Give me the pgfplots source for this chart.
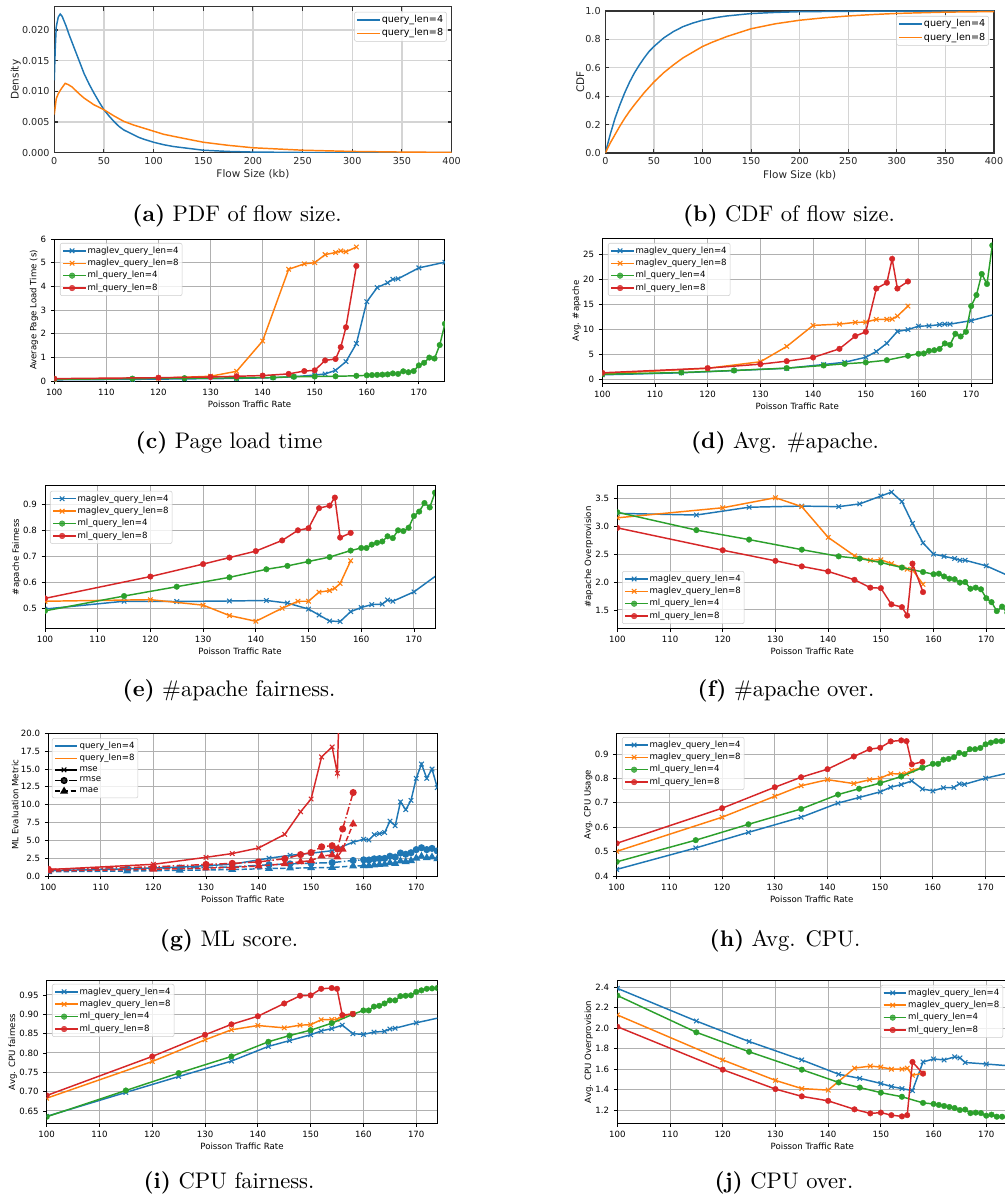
\documentclass[border=0pt]{standalone}
\usepackage{fontspec}
\usepackage{pgfplots}
\pgfplotsset{compat=1.18}
\newfontfamily\djv{DejaVu Sans}
\definecolor{tblue}{HTML}{1F77B4}
\definecolor{torange}{HTML}{FF7F0E}
\definecolor{tgreen}{HTML}{2CA02C}
\definecolor{tred}{HTML}{D62728}
\definecolor{mgrid}{HTML}{B0B0B0}
\definecolor{sgrid}{HTML}{D4D4D4}
\newcommand\fs{\djv\fontsize{6.45}{7.7}\selectfont}
\newcommand\fa{\djv\fontsize{7.2}{8.6}\selectfont}
\newcommand\fal{\djv\fontsize{7.85}{9.4}\selectfont}
\newcommand\capf{\fontsize{10}{12}\selectfont}
\newcommand\subcap[3]{\node[anchor=base, scale=1.69] at (#1) {\capf\textbf{(#2)} #3};}
\pgfplotsset{
 legend image code/.code={\draw[mark repeat=2,mark phase=2,#1] plot coordinates {(0pt,0pt)(6.75pt,0pt)(13.5pt,0pt)};\path (0pt,0pt) -- (16.8pt,0pt);},
 mpl/.style={scale only axis, anchor=south west, /pgf/number format/assume math mode=true, legend cell align=left, scaled ticks=false, grid=major, clip marker paths=true,
   legend style={draw=black!20, fill=white, fill opacity=0.8, text opacity=1, draw opacity=1, rounded corners=1.5pt, inner xsep=1.6pt, inner ysep=1.5pt, row sep=0.9pt, nodes={inner sep=1pt}},
   ylabel style={yshift=-5pt}, xlabel style={yshift=3pt}},
 pdfax/.style={mpl, tick label style={font=\fa, text=black!85}, label style={font=\fal, text=black!85}, legend style={font=\fa}, tick align=inside, major grid style={color=sgrid, line width=0.9pt}, axis line style={color=black!80, line width=1pt}, major tick style={color=black!80, line width=0.8pt}, major tick length=3pt, ylabel style={yshift=-1pt}},
 poi/.style={mpl, tick label style={font=\fs}, label style={font=\fs}, legend style={font=\fs}, tick align=outside, xtick pos=left, ytick pos=left, xmin=100, xmax=174, xtick={100,110,...,170}, major grid style={color=mgrid, line width=0.75pt}, axis line style={black, line width=0.7pt}, major tick length=2.6pt, major tick style={black, line width=0.6pt}, width=292.5pt, height=107pt, xlabel={Poisson Traffic Rate}},
 m4/.style={color=tblue, line width=1.1pt, mark=x, mark size=2.4pt, mark options={solid, line width=0.8pt}},
 m8/.style={color=torange, line width=1.1pt, mark=x, mark size=2.4pt, mark options={solid, line width=0.8pt}},
 l4/.style={color=tgreen, line width=1.1pt, mark=*, mark size=2.1pt, mark options={solid, line width=0.3pt}},
 l8/.style={color=tred, line width=1.1pt, mark=*, mark size=2.1pt, mark options={solid, line width=0.3pt}},
 ddot/.style={dash pattern=on 6pt off 1.8pt on 1.1pt off 1.8pt},
 ddash/.style={dash pattern=on 4pt off 1.8pt},
}
\begin{document}
\begin{tikzpicture}
% (a)
\begin{axis}[pdfax, at={(40.7pt,-114.5pt)}, width=298pt, height=109.5pt, xmin=0, xmax=400, ymin=0, ymax=0.0238,
 xtick={0,50,...,400}, ytick={0,0.005,0.010,0.015,0.020},
 yticklabel style={/pgf/number format/.cd, fixed, fixed zerofill, precision=3},
 xlabel={Flow Size (kb)}, ylabel={Density}, legend style={at={(0.988,0.964)}, anchor=north east}]
\addplot[color=tblue, line width=1.1pt] coordinates {(0,0.0118)(1,0.0170)(2,0.0205)(4,0.0221)(6,0.0226)(8,0.0222)(10,0.0214)(12,0.0206)(15,0.0192)(20,0.0171)(25,0.0150)(30,0.0129)(35,0.0112)(40,0.0097)(45,0.0083)(50,0.0070)(55,0.0060)(60,0.0051)(65,0.0043)(70,0.0037)(75,0.0033)(80,0.0029)(85,0.0025)(90,0.0022)(100,0.0017)(110,0.0013)(120,0.0010)(130,0.0008)(140,0.0006)(150,0.0004)(175,0.0002)(200,0.0001)(250,0.00003)(300,0.00001)(350,0.000003)(400,0.000001)};
\addlegendentry{query\_len=4}
\addplot[color=torange, line width=1.1pt] coordinates {(0,0.0062)(2,0.0088)(4,0.0096)(7,0.0104)(11,0.0113)(14,0.0111)(18,0.0107)(25,0.0096)(30,0.0089)(40,0.0078)(50,0.0070)(60,0.0060)(70,0.0051)(80,0.0045)(90,0.0040)(100,0.0035)(110,0.0030)(125,0.0025)(150,0.0017)(175,0.0012)(200,0.0008)(225,0.0006)(250,0.0004)(275,0.0003)(300,0.0002)(325,0.00015)(350,0.0001)(375,0.00007)(400,0.00005)};
\addlegendentry{query\_len=8}
\end{axis}
% (b)
\begin{axis}[pdfax, at={(454pt,-114.75pt)}, width=291.5pt, height=106.5pt, xmin=0, xmax=400, ymin=0, ymax=1,
 xtick={0,50,...,400}, ytick={0,0.2,0.4,0.6,0.8,1.0},
 yticklabel style={/pgf/number format/.cd, fixed, fixed zerofill, precision=1},
 xlabel={Flow Size (kb)}, ylabel={CDF}, legend style={at={(0.987,0.965)}, anchor=north east}]
\addplot[color=tblue, line width=1.1pt] coordinates {(0,0)(2.5,0.065)(5,0.13)(10,0.245)(15,0.34)(20,0.425)(25,0.50)(30,0.565)(35,0.62)(40,0.67)(45,0.715)(50,0.75)(60,0.81)(70,0.855)(80,0.89)(90,0.915)(100,0.935)(115,0.955)(125,0.965)(150,0.982)(175,0.99)(200,0.995)(250,0.998)(300,0.999)(400,1.0)};
\addlegendentry{query\_len=4}
\addplot[color=torange, line width=1.1pt] coordinates {(0,0)(5,0.07)(10,0.13)(15,0.19)(20,0.245)(25,0.295)(30,0.34)(40,0.425)(50,0.50)(60,0.565)(70,0.62)(80,0.67)(90,0.71)(100,0.75)(110,0.78)(125,0.82)(150,0.875)(175,0.91)(200,0.935)(225,0.952)(250,0.965)(275,0.975)(300,0.983)(350,0.992)(400,0.996)};
\addlegendentry{query\_len=8}
\end{axis}
% (c)
\begin{axis}[poi, at={(40.7pt,-285.75pt)}, width=293pt, height=106.5pt, xmax=175, ymin=0, ymax=6, ytick={0,...,6},
 ylabel={Average Page Load Time (s)}, legend style={at={(0.0146,0.972)}, anchor=north west}]
\addplot[m4] coordinates {(100,0.05)(115,0.07)(125,0.09)(135,0.11)(142,0.14)(146,0.18)(150,0.25)(152,0.30)(154,0.45)(156,0.82)(158,1.58)(160,3.35)(162,3.95)(164,4.15)(165,4.30)(166,4.32)(170,4.78)(175,5.02)};
\addlegendentry{maglev\_query\_len=4}
\addplot[m8] coordinates {(100,0.08)(120,0.12)(130,0.20)(135,0.41)(140,1.69)(145,4.72)(148,4.95)(150,5.00)(152,5.34)(154,5.43)(155,5.50)(156,5.46)(158,5.66)};
\addlegendentry{maglev\_query\_len=8}
\addplot[l4] coordinates {(100,0.07)(115,0.10)(125,0.12)(135,0.13)(142,0.15)(146,0.18)(150,0.19)(154,0.20)(158,0.22)(160,0.24)(161,0.25)(162,0.26)(163,0.27)(164,0.28)(165,0.32)(166,0.30)(167,0.41)(168,0.37)(169,0.42)(170,0.66)(171,0.77)(172,0.99)(173,0.95)(174,1.52)(175,2.42)};
\addlegendentry{ml\_query\_len=4}
\addplot[l8] coordinates {(100,0.10)(120,0.14)(130,0.17)(135,0.20)(140,0.23)(145,0.30)(148,0.42)(150,0.45)(152,0.87)(154,0.93)(155,1.43)(156,2.27)(158,4.86)};
\addlegendentry{ml\_query\_len=8}
\end{axis}
% (d)
\begin{axis}[poi, at={(451.7pt,-287.5pt)}, width=292.5pt, height=108.75pt, ymin=-0.7, ymax=28.2, ytick={0,5,...,25},
 ylabel={Avg. \#apache}, legend style={at={(0.0146,0.968)}, anchor=north west}]
\addplot[m4] coordinates {(100,1.0)(115,1.4)(125,1.85)(135,2.3)(142,3.05)(146,3.5)(150,4.5)(152,5.65)(154,7.3)(156,9.65)(158,10.0)(160,10.7)(162,10.75)(164,11.0)(165,11.1)(166,11.1)(170,11.8)(175,13.2)};
\addlegendentry{maglev\_query\_len=4}
\addplot[m8] coordinates {(100,1.2)(120,2.3)(130,3.6)(135,6.65)(140,10.85)(145,11.1)(148,11.45)(150,11.5)(152,12.05)(154,12.05)(155,12.1)(156,12.7)(158,14.7)};
\addlegendentry{maglev\_query\_len=8}
\addplot[l4] coordinates {(100,1.1)(115,1.46)(125,1.86)(135,2.33)(142,2.86)(146,3.19)(150,3.46)(154,3.92)(158,4.79)(160,5.19)(161,5.25)(162,5.78)(163,5.9)(164,6.15)(165,7.25)(166,6.98)(167,9.18)(168,8.64)(169,9.57)(170,14.7)(171,16.9)(172,21.1)(173,19.1)(174,26.8)};
\addlegendentry{ml\_query\_len=4}
\addplot[l8] coordinates {(100,1.4)(120,2.33)(130,3.12)(135,3.72)(140,4.45)(145,6.18)(148,8.71)(150,9.57)(152,18.2)(154,19.35)(155,24.1)(156,18.2)(158,19.6)};
\addlegendentry{ml\_query\_len=8}
\end{axis}
% (e)
\begin{axis}[poi, at={(33.75pt,-471.2pt)}, ymin=0.423, ymax=0.972, ytick={0.5,0.6,0.7,0.8,0.9},
 yticklabel style={/pgf/number format/.cd, fixed, fixed zerofill, precision=1},
 ylabel={\#apache Fairness}, legend style={at={(0.0128,0.963)}, anchor=north west}]
\addplot[m4] coordinates {(100,0.497)(115,0.527)(125,0.526)(135,0.528)(142,0.530)(146,0.520)(150,0.497)(152,0.474)(154,0.451)(156,0.449)(158,0.487)(160,0.503)(162,0.514)(164,0.516)(165,0.532)(166,0.527)(170,0.563)(175,0.637)};
\addlegendentry{maglev\_query\_len=4}
\addplot[m8] coordinates {(100,0.527)(120,0.533)(130,0.512)(135,0.472)(140,0.450)(145,0.500)(148,0.527)(150,0.527)(152,0.562)(154,0.568)(155,0.577)(156,0.595)(158,0.683)};
\addlegendentry{maglev\_query\_len=8}
\addplot[l4] coordinates {(100,0.490)(115,0.547)(125,0.583)(135,0.619)(142,0.650)(146,0.663)(150,0.680)(154,0.697)(158,0.722)(160,0.732)(161,0.732)(162,0.745)(163,0.752)(164,0.757)(165,0.777)(166,0.770)(167,0.800)(168,0.797)(169,0.810)(170,0.855)(171,0.872)(172,0.905)(173,0.888)(174,0.945)};
\addlegendentry{ml\_query\_len=4}
\addplot[l8] coordinates {(100,0.538)(120,0.622)(130,0.670)(135,0.695)(140,0.720)(145,0.761)(148,0.800)(150,0.808)(152,0.885)(154,0.895)(155,0.926)(156,0.772)(158,0.790)};
\addlegendentry{ml\_query\_len=8}
\end{axis}
% (f)
\begin{axis}[poi, at={(463pt,-471.2pt)}, ymin=1.172, ymax=3.727, ytick={1.5,2.0,2.5,3.0,3.5},
 yticklabel style={/pgf/number format/.cd, fixed, fixed zerofill, precision=1},
 ylabel={\#apache Overprovision}, legend style={at={(0.012,0.03)}, anchor=south west}]
\addplot[m4] coordinates {(100,3.23)(115,3.20)(125,3.34)(135,3.36)(142,3.35)(146,3.40)(150,3.54)(152,3.61)(154,3.44)(156,3.05)(158,2.70)(160,2.50)(162,2.46)(164,2.42)(165,2.39)(166,2.39)(170,2.29)(175,2.08)};
\addlegendentry{maglev\_query\_len=4}
\addplot[m8] coordinates {(100,3.15)(120,3.33)(130,3.51)(135,3.35)(140,2.80)(145,2.47)(148,2.39)(150,2.40)(152,2.33)(154,2.26)(155,2.23)(156,2.22)(158,1.96)};
\addlegendentry{maglev\_query\_len=8}
\addplot[l4] coordinates {(100,3.25)(115,2.93)(125,2.76)(135,2.58)(142,2.46)(146,2.42)(150,2.35)(154,2.26)(158,2.18)(160,2.14)(161,2.15)(162,2.10)(163,2.06)(164,2.05)(165,1.99)(166,2.00)(167,1.88)(168,1.90)(169,1.87)(170,1.71)(171,1.64)(172,1.48)(173,1.56)(174,1.45)};
\addlegendentry{ml\_query\_len=4}
\addplot[l8] coordinates {(100,2.97)(120,2.57)(130,2.38)(135,2.28)(140,2.19)(145,2.04)(148,1.90)(150,1.89)(152,1.60)(154,1.55)(155,1.40)(156,2.33)(158,1.82)};
\addlegendentry{ml\_query\_len=8}
\end{axis}
% (g)
\begin{axis}[poi, at={(36.2pt,-657pt)}, width=291.75pt, ymin=0, ymax=20, ytick={0,2.5,...,20},
 yticklabel style={/pgf/number format/.cd, fixed, fixed zerofill, precision=1},
 ylabel={ML Evaluation Metric}, legend style={at={(0.0095,0.967)}, anchor=north west}]
\addlegendimage{color=tblue, line width=1.1pt}
\addlegendentry{query\_len=4}
\addlegendimage{color=torange, line width=1.1pt}
\addlegendentry{query\_len=8}
\addlegendimage{color=black, line width=1.1pt, mark=x, mark size=2.4pt, mark options={solid, line width=0.8pt}}
\addlegendentry{mse}
\addlegendimage{color=black, line width=1.1pt, ddot, mark=*, mark size=2.1pt, mark options={solid}}
\addlegendentry{rmse}
\addlegendimage{color=black, line width=1.1pt, ddash, mark=triangle*, mark size=2.4pt, mark options={solid}}
\addlegendentry{mae}
\addplot[forget plot, color=tblue, line width=1.1pt, mark=x, mark size=2.4pt, mark options={solid, line width=0.8pt}] coordinates {(100,0.75)(115,1.0)(125,1.25)(135,1.65)(142,2.5)(146,2.9)(150,3.2)(154,3.55)(158,4.75)(160,5.15)(161,5.05)(162,5.8)(163,5.95)(164,6.1)(165,7.7)(166,7.05)(167,10.4)(168,9.3)(169,10.6)(170,13.7)(171,15.7)(172,13.7)(173,15.0)(174,12.4)};
\addplot[forget plot, color=tblue, line width=1.1pt, ddot, mark=*, mark size=2.1pt, mark options={solid}] coordinates {(100,0.87)(115,1.0)(125,1.12)(135,1.28)(142,1.58)(146,1.70)(150,1.79)(154,1.88)(158,2.18)(160,2.27)(161,2.25)(162,2.41)(163,2.44)(164,2.47)(165,2.77)(166,2.66)(167,3.22)(168,3.05)(169,3.26)(170,3.70)(171,3.96)(172,3.70)(173,3.87)(174,3.52)};
\addplot[forget plot, color=tblue, line width=1.1pt, ddash, mark=triangle*, mark size=2.4pt, mark options={solid}] coordinates {(100,0.6)(115,0.7)(125,0.8)(135,0.9)(142,1.05)(146,1.1)(150,1.15)(154,1.2)(158,1.4)(160,1.45)(161,1.45)(162,1.55)(163,1.6)(164,1.65)(165,1.85)(166,1.75)(167,2.1)(168,2.0)(169,2.15)(170,2.5)(171,2.75)(172,2.55)(173,2.65)(174,2.4)};
\addplot[forget plot, color=tred, line width=1.1pt, mark=x, mark size=2.4pt, mark options={solid, line width=0.8pt}] coordinates {(100,0.9)(120,1.64)(130,2.62)(135,3.15)(140,3.93)(145,5.84)(148,9.0)(150,10.8)(152,16.7)(154,18.1)(155,14.4)(156,43.6)(158,137)};
\addplot[forget plot, color=tred, line width=1.1pt, ddot, mark=*, mark size=2.1pt, mark options={solid}] coordinates {(100,0.95)(120,1.28)(130,1.62)(135,1.77)(140,1.98)(145,2.42)(148,3.0)(150,3.29)(152,4.09)(154,4.25)(155,3.79)(156,6.6)(158,11.7)};
\addplot[forget plot, color=tred, line width=1.1pt, ddash, mark=triangle*, mark size=2.4pt, mark options={solid}] coordinates {(100,0.7)(120,0.95)(130,1.1)(135,1.2)(140,1.4)(145,1.7)(148,2.0)(150,2.15)(152,2.8)(154,2.95)(155,2.65)(156,3.75)(158,7.3)};
\end{axis}
% (h)
\begin{axis}[poi, at={(462.5pt,-657pt)}, ymin=0.4, ymax=0.985, ytick={0.4,0.5,0.6,0.7,0.8,0.9},
 yticklabel style={/pgf/number format/.cd, fixed, fixed zerofill, precision=1},
 ylabel={Avg. CPU Usage}, legend style={at={(0.0136,0.974)}, anchor=north west}]
\addplot[m4] coordinates {(100,0.427)(115,0.515)(125,0.579)(135,0.641)(142,0.699)(146,0.722)(150,0.745)(152,0.764)(154,0.775)(156,0.790)(158,0.757)(160,0.749)(162,0.762)(164,0.763)(165,0.778)(166,0.776)(170,0.801)(175,0.826)};
\addlegendentry{maglev\_query\_len=4}
\addplot[m8] coordinates {(100,0.501)(120,0.641)(130,0.727)(135,0.770)(140,0.795)(145,0.779)(148,0.795)(150,0.801)(152,0.820)(154,0.818)(155,0.820)(156,0.833)(158,0.845)};
\addlegendentry{maglev\_query\_len=8}
\addplot[l4] coordinates {(100,0.458)(115,0.547)(125,0.612)(135,0.675)(142,0.734)(146,0.758)(150,0.781)(154,0.808)(158,0.844)(160,0.860)(161,0.860)(162,0.877)(163,0.880)(164,0.887)(165,0.905)(166,0.900)(167,0.920)(168,0.920)(169,0.925)(170,0.940)(171,0.947)(172,0.953)(173,0.953)(174,0.955)};
\addlegendentry{ml\_query\_len=4}
\addplot[l8] coordinates {(100,0.534)(120,0.678)(130,0.764)(135,0.805)(140,0.838)(145,0.890)(148,0.920)(150,0.926)(152,0.952)(154,0.956)(155,0.953)(156,0.858)(158,0.868)};
\addlegendentry{ml\_query\_len=8}
\end{axis}
% (i)
\begin{axis}[poi, at={(35pt,-842.5pt)}, width=293pt, ymin=0.618, ymax=0.987, ytick={0.65,0.70,0.75,0.80,0.85,0.90,0.95},
 yticklabel style={/pgf/number format/.cd, fixed, fixed zerofill, precision=2},
 ylabel={Avg. CPU fairness}, legend style={at={(0.0136,0.977)}, anchor=north west}]
\addplot[m4] coordinates {(100,0.636)(115,0.698)(125,0.739)(135,0.779)(142,0.817)(146,0.832)(150,0.847)(152,0.857)(154,0.863)(156,0.872)(158,0.850)(160,0.848)(162,0.854)(164,0.856)(165,0.862)(166,0.864)(170,0.878)(175,0.893)};
\addlegendentry{maglev\_query\_len=4}
\addplot[m8] coordinates {(100,0.683)(120,0.778)(130,0.834)(135,0.860)(140,0.871)(145,0.865)(148,0.872)(150,0.873)(152,0.886)(154,0.886)(155,0.887)(156,0.895)(158,0.902)};
\addlegendentry{maglev\_query\_len=8}
\addplot[l4] coordinates {(100,0.635)(115,0.703)(125,0.748)(135,0.791)(142,0.829)(146,0.845)(150,0.859)(154,0.877)(158,0.900)(160,0.910)(161,0.910)(162,0.920)(163,0.922)(164,0.928)(165,0.936)(166,0.936)(167,0.947)(168,0.948)(169,0.949)(170,0.958)(171,0.962)(172,0.966)(173,0.967)(174,0.968)};
\addlegendentry{ml\_query\_len=4}
\addplot[l8] coordinates {(100,0.690)(120,0.791)(130,0.847)(135,0.874)(140,0.895)(145,0.928)(148,0.948)(150,0.949)(152,0.966)(154,0.968)(155,0.966)(156,0.898)(158,0.901)};
\addlegendentry{ml\_query\_len=8}
\end{axis}
% (j)
\begin{axis}[poi, at={(463pt,-842.5pt)}, ymin=1.07, ymax=2.465, ytick={1.2,1.4,1.6,1.8,2.0,2.2,2.4},
 yticklabel style={/pgf/number format/.cd, fixed, fixed zerofill, precision=1},
 ylabel={Avg. CPU Overprovision}, legend style={at={(0.989,0.97)}, anchor=north east}]
\addplot[m4] coordinates {(100,2.39)(115,2.07)(125,1.87)(135,1.69)(142,1.55)(146,1.51)(150,1.46)(152,1.43)(154,1.41)(156,1.39)(158,1.67)(160,1.70)(162,1.69)(164,1.72)(165,1.71)(166,1.665)(170,1.65)(175,1.63)};
\addlegendentry{maglev\_query\_len=4}
\addplot[m8] coordinates {(100,2.13)(120,1.69)(130,1.49)(135,1.41)(140,1.395)(145,1.61)(148,1.63)(150,1.62)(152,1.60)(154,1.60)(155,1.61)(156,1.54)(158,1.56)};
\addlegendentry{maglev\_query\_len=8}
\addplot[l4] coordinates {(100,2.32)(115,1.96)(125,1.77)(135,1.595)(142,1.47)(146,1.42)(150,1.37)(154,1.33)(158,1.27)(160,1.26)(161,1.25)(162,1.24)(163,1.23)(164,1.22)(165,1.20)(166,1.205)(167,1.17)(168,1.175)(169,1.17)(170,1.145)(171,1.155)(172,1.135)(173,1.135)(174,1.13)};
\addlegendentry{ml\_query\_len=4}
\addplot[l8] coordinates {(100,2.015)(120,1.595)(130,1.405)(135,1.334)(140,1.29)(145,1.207)(148,1.167)(150,1.175)(152,1.15)(154,1.138)(155,1.15)(156,1.67)(158,1.556)};
\addlegendentry{ml\_query\_len=8}
\end{axis}
% captions
\subcap{177.75pt,-165.75pt}{a}{PDF of flow size.}
\subcap{591.75pt,-165.75pt}{b}{CDF of flow size.}
\subcap{171.75pt,-336.4pt}{c}{Page load time}
\subcap{588.75pt,-336.4pt}{d}{Avg. \#apache.}
\subcap{171.75pt,-522.4pt}{e}{\#apache fairness.}
\subcap{589.5pt,-522.4pt}{f}{\#apache over.}
\subcap{171.75pt,-709.9pt}{g}{ML score.}
\subcap{588.75pt,-709.9pt}{h}{Avg. CPU.}
\subcap{171.75pt,-891.7pt}{i}{CPU fairness.}
\subcap{588pt,-891.7pt}{j}{CPU over.}
\pgfresetboundingbox
\path (0pt,0pt) rectangle (753pt,-896.25pt);
\end{tikzpicture}
\end{document}
